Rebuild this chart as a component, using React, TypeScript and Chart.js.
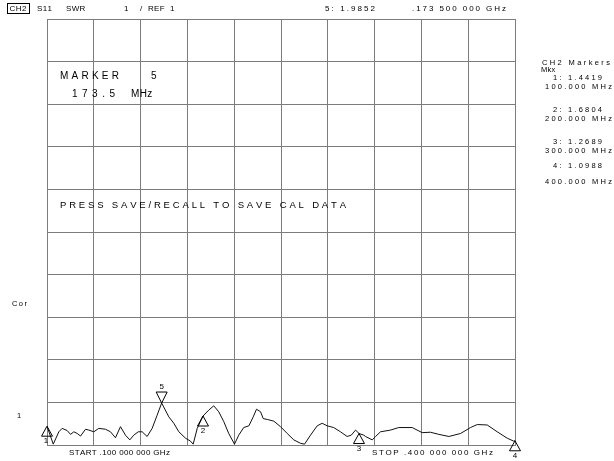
import React, { useEffect, useRef } from "react";
import { Chart, registerables } from "chart.js";
Chart.register(...registerables);

// Trace data: frequency (MHz) and SWR
const freqMHz = [100,104.0,107.6,109.7,112.9,115.1,117.2,119.4,121.5,124.7,126.8,130.0,133.2,137.5,140.7,143.9,147.1,150.3,153.1,155.6,158.5,161.0,164.2,167.4,170.6,173.5,178.1,181.3,184.5,188.8,192.0,193.7,196.3,200,203.7,206.9,210.1,213.3,216.5,220.2,222.9,226.1,229.4,232.2,234.3,236.9,238.6,241.2,245.4,249.7,254.0,258.2,262.5,265.1,268.9,273.2,276.4,279.6,283.8,288.1,292.4,295.0,297.8,300,303.1,304.2,308.5,310.6,313.8,320.2,325.5,334.1,340.5,345.8,351.1,357.6,365.1,371.5,375.8,382.2,388.6,395.0,399.2,400];
const swr = [1.44,1.02,1.31,1.39,1.34,1.25,1.31,1.27,1.21,1.37,1.35,1.31,1.39,1.37,1.31,1.17,1.43,1.23,1.12,1.23,1.31,1.31,1.20,1.39,1.70,1.985,1.66,1.51,1.31,1.16,1.09,1.02,1.39,1.68,1.82,1.92,1.78,1.55,1.27,1.02,1.23,1.41,1.45,1.66,1.84,1.78,1.62,1.60,1.56,1.43,1.27,1.12,1.04,1.02,1.23,1.45,1.51,1.45,1.41,1.31,1.20,1.23,1.35,1.27,1.23,1.20,1.12,1.20,1.31,1.35,1.41,1.41,1.29,1.30,1.25,1.20,1.27,1.41,1.48,1.47,1.31,1.16,1.09,1.10];

// Markers
const markerNums = ["1", "2", "3", "4", "5"];
const markerFreqs = [100, 200, 300, 400, 173.5];
const markerSWR = [1.4419, 1.6804, 1.2689, 1.0988, 1.9852];
const activeMarker = "5";

// Scale settings
const startMHz = 100;
const stopMHz = 400;
const freqStep = 30;
const refValue = 1;
const scalePerDiv = 1;
const divisions = 10;

// Texts
const headerTexts = ["CH2", "S11", "SWR", "1", "/", "REF", "1", "5: 1.9852", ".173 500 000 GHz"];
const listTitle = ["CH2 Markers", "Mkx"];
const listLines = ["1: 1.4419", "100.000 MHz", "2: 1.6804", "200.000 MHz", "3: 1.2689", "300.000 MHz", "4: 1.0988", "400.000 MHz"];
const annoTexts = ["MARKER", "5", "173.5", "MHz", "PRESS SAVE/RECALL TO SAVE CAL DATA"];
const sideTexts = ["Cor", "1"];
const footTexts = ["START .100 000 000 GHz", "STOP .400 000 000 GHz"];

const FAM = '"Liberation Sans", Arial, sans-serif';

function spaced(ctx: CanvasRenderingContext2D, text: string, x: number, y: number, width: number, size: number) {
  ctx.font = `${size}px ${FAM}`;
  const chars = Array.from(text);
  const ws = chars.map((c) => ctx.measureText(c).width);
  const total = ws.reduce((a, b) => a + b, 0);
  const gap = chars.length > 1 ? Math.max(0.3, (width - total) / (chars.length - 1)) : 0;
  let cx = x;
  ctx.textAlign = "left";
  ctx.textBaseline = "middle";
  chars.forEach((c, i) => {
    ctx.fillText(c, cx, y);
    cx += ws[i] + gap;
  });
}

const overlay = {
  id: "overlay",
  afterDraw(chart: any) {
    const ctx: CanvasRenderingContext2D = chart.ctx;
    const xs = chart.scales.x;
    const ys = chart.scales.y;
    ctx.save();
    ctx.fillStyle = "#000";
    ctx.strokeStyle = "#000";
    ctx.lineWidth = 1;

    // header
    ctx.strokeRect(7.5, 3.5, 22, 10);
    spaced(ctx, headerTexts[0], 9.5, 9, 17, 8);
    spaced(ctx, headerTexts[1], 37, 9, 13, 8);
    spaced(ctx, headerTexts[2], 66, 9, 18, 8);
    spaced(ctx, headerTexts[3], 124, 9, 3, 8);
    spaced(ctx, headerTexts[4], 140, 9, 3, 8);
    spaced(ctx, headerTexts[5], 148, 9, 15, 8);
    spaced(ctx, headerTexts[6], 170, 9, 3, 8);
    spaced(ctx, headerTexts[7], 325, 9, 50, 8);
    spaced(ctx, headerTexts[8], 412, 9, 94, 8);

    // right list
    spaced(ctx, listTitle[0], 542, 63, 68, 7.5);
    spaced(ctx, listTitle[1], 541, 70, 13, 7.5);
    const ly = [78, 87, 110, 119, 142, 151, 166, 182];
    listLines.forEach((t, i) => {
      const isVal = i % 2 === 0;
      spaced(ctx, t, isVal ? 553 : 545, ly[i], isVal ? 49 : 67, 7.5);
    });

    // annotations
    spaced(ctx, annoTexts[0], 60, 76, 59, 10);
    spaced(ctx, annoTexts[1], 151, 76, 6, 10);
    spaced(ctx, annoTexts[2], 72, 94, 43, 10);
    spaced(ctx, annoTexts[3], 131, 94, 20, 10);
    spaced(ctx, annoTexts[4], 60, 205, 286, 9.5);

    // side
    spaced(ctx, sideTexts[0], 12, 304, 15, 7.5);
    spaced(ctx, sideTexts[1], 17, 416, 3, 7.5);

    // foot
    spaced(ctx, footTexts[0], 69, 453, 101, 8);
    spaced(ctx, footTexts[1], 372, 453, 121, 8);

    // markers
    ctx.font = `8px ${FAM}`;
    ctx.textAlign = "center";
    markerNums.forEach((n, i) => {
      const px = xs.getPixelForValue(markerFreqs[i]);
      const py = ys.getPixelForValue(markerSWR[i]);
      ctx.beginPath();
      if (n === activeMarker) {
        ctx.moveTo(px, py);
        ctx.lineTo(px - 5.5, py - 11);
        ctx.lineTo(px + 5.5, py - 11);
        ctx.closePath();
        ctx.stroke();
        ctx.textBaseline = "middle";
        ctx.fillText(n, px, py - 16);
      } else {
        ctx.moveTo(px, py);
        ctx.lineTo(px - 5.5, py + 10);
        ctx.lineTo(px + 5.5, py + 10);
        ctx.closePath();
        ctx.stroke();
        ctx.textBaseline = "middle";
        if (i === 0) ctx.fillText(n, px - 1, py + 15);
        else ctx.fillText(n, px, py + 15);
      }
    });
    ctx.restore();
  },
};

export default function App() {
  const ref = useRef<HTMLCanvasElement | null>(null);
  useEffect(() => {
    if (!ref.current) return;
    const chart = new Chart(ref.current, {
      type: "line",
      data: {
        datasets: [
          {
            data: freqMHz.map((f, i) => ({ x: f, y: swr[i] })),
            borderColor: "#111",
            borderWidth: 1,
            pointRadius: 0,
            tension: 0,
            fill: false,
          },
        ],
      },
      options: {
        animation: false,
        responsive: false,
        devicePixelRatio: 1,
        layout: { padding: { left: 47, top: 19, right: 99, bottom: 16 } },
        plugins: { legend: { display: false }, tooltip: { enabled: false } },
        scales: {
          x: {
            type: "linear",
            min: startMHz,
            max: stopMHz,
            ticks: { display: false, stepSize: freqStep },
            grid: { color: "#7c7c7c", lineWidth: 1, drawTicks: false },
            border: { display: true, color: "#7c7c7c" },
          },
          y: {
            type: "linear",
            min: refValue,
            max: refValue + scalePerDiv * divisions,
            ticks: { display: false, stepSize: scalePerDiv },
            grid: { color: "#7c7c7c", lineWidth: 1, drawTicks: false },
            border: { display: true, color: "#7c7c7c" },
          },
        },
      },
      plugins: [overlay],
    });
    return () => chart.destroy();
  }, []);
  return (
    <div style={{ position: "fixed", left: 0, top: 0, width: 614, height: 461, background: "#fff" }}>
      <canvas ref={ref} width={614} height={461} style={{ display: "block", width: 614, height: 461 }} />
    </div>
  );
}
